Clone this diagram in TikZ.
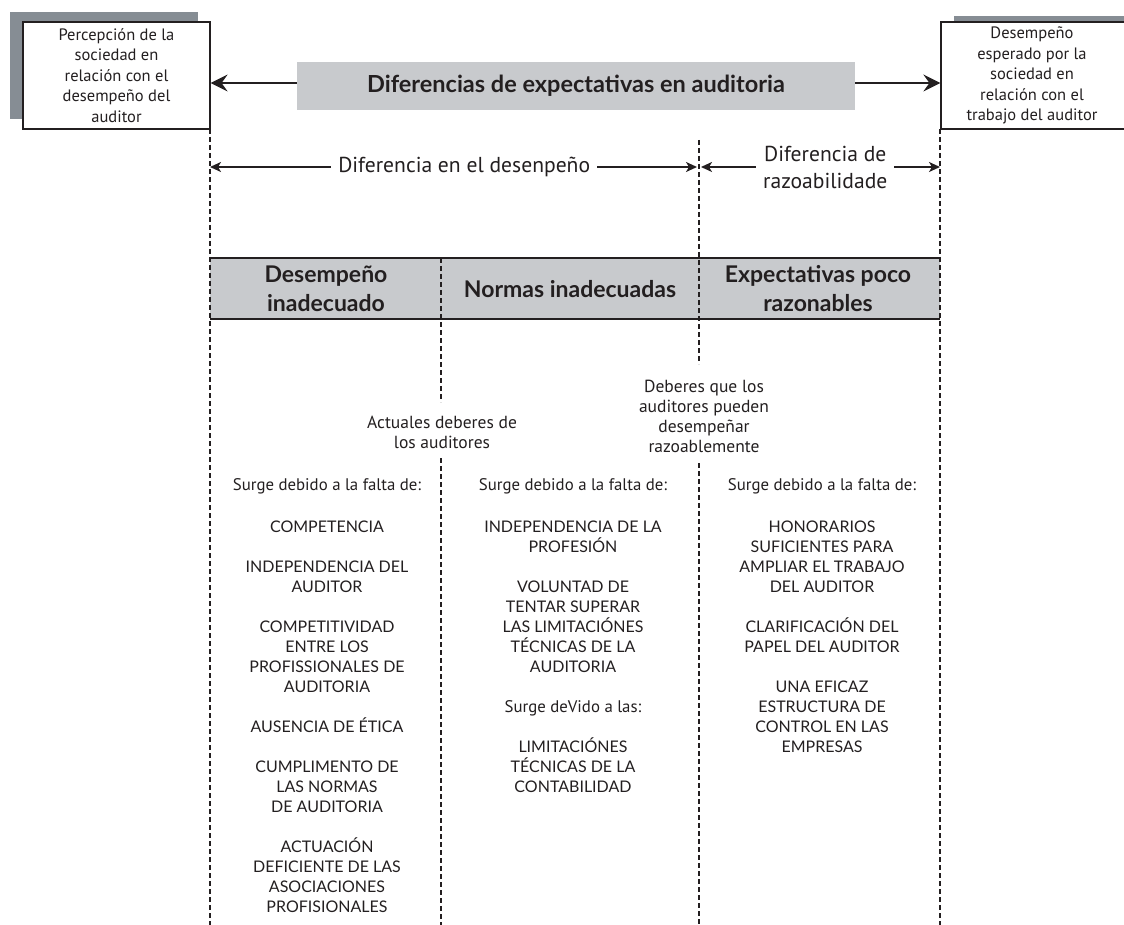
\documentclass[tikz,border=0pt]{standalone}
\usepackage{fontspec}
\setmainfont{PT Sans}
\newfontfamily\capsfont{Lato}
\newfontfamily\headfont{Lato}
\usetikzlibrary{arrows.meta}
\definecolor{ink}{HTML}{231F20}
\definecolor{bandgray}{HTML}{C8CACD}
\definecolor{shadowgray}{HTML}{868D94}
\begin{document}
\begin{tikzpicture}[x=1pt,y=-1pt,
  every node/.style={text=ink, inner sep=0pt},
  sidebox/.style={draw=ink, line width=1.2pt, fill=white, minimum height=107pt},
  boxtext/.style={align=center, font=\fontsize{16.5}{20.5}\selectfont},
  banner/.style={fill=bandgray, minimum width=558pt, minimum height=48pt, font=\headfont\bfseries\fontsize{23.5}{26}\selectfont},
  headtext/.style={align=center, font=\headfont\bfseries\fontsize{23}{29}\selectfont},
  dimtext/.style={align=center, fill=white, inner xsep=7pt, inner ysep=2pt, font=\fontsize{21.6}{27}\selectfont},
  coltext/.style={align=center, anchor=north, font=\fontsize{16.8}{20}\selectfont},
  dutytext/.style={align=center, font=\fontsize{17.5}{20}\selectfont},
  bigarrow/.style={draw=ink, line width=2pt, -{Stealth[length=17pt, width=17pt, inset=6pt]}},
  dimarrow/.style={draw=ink, line width=1.8pt, {Stealth[length=11pt, width=10pt, inset=3pt]}-{Stealth[length=11pt, width=10pt, inset=3pt]}},
  divider/.style={draw=ink, line width=2.6pt, dash pattern=on 5pt off 3pt},
  barline/.style={draw=ink, line width=1.4pt}]
\useasboundingbox (0,0) rectangle (1124,925);
\def\itm{\capsfont\fontsize{16}{20}\selectfont}
% side boxes with shadows
\fill[shadowgray] (10,12) rectangle (198,119);
\node[sidebox, minimum width=187pt] (perc) at (116.5,75.5) {};
\node[boxtext] (perctext) at (116.5,75.5) {Percepción de la\\sociedad en\\relación con el\\desempeño del\\auditor};
\fill[shadowgray] (954,16) rectangle (1140,120);
\node[sidebox, minimum width=195pt] (esper) at (1038.5,75.5) {};
\node[boxtext] (espertext) at (1032,75.5) {Desempeño\\esperado por la\\sociedad en\\relación con el\\trabajo del auditor};
% banner
\node[banner] (title) at (576,86) {Diferencias de expectativas en auditoria};
\draw[bigarrow] ([yshift=3pt]title.west) -- ([yshift=3pt]title.west -| perc.east);
\draw[bigarrow] ([yshift=3pt]title.east) -- ([yshift=3pt]title.east -| esper.west);
% header bar
\fill[bandgray] (210,258) rectangle (940,319);
\draw[barline] (210,258) -- (940,258) (210,319) -- (940,319);
\node[headtext] (h1) at (326,289) {Desempeño\\inadecuado};
\node[headtext] (h2) at (570,289) {Normas inadecuadas};
\node[headtext] (h3) at (818,289) {Expectativas poco\\razonables};
% vertical dividers
\coordinate (a1) at (210,129); \coordinate (a2) at (210,925);
\coordinate (d1) at (940,129); \coordinate (d2) at (940,925);
\coordinate (b1) at (441,258); \coordinate (b2) at (441,402);
\coordinate (b3) at (441,458); \coordinate (b4) at (441,925);
\coordinate (c1) at (699,140); \coordinate (c2) at (699,364);
\coordinate (c3) at (699,463); \coordinate (c4) at (699,925);
\draw[divider] (a1) -- (a2);
\draw[divider] (d1) -- (d2);
\draw[divider] (b1) -- (b2);
\draw[divider] (b3) -- (b4);
\draw[divider] (c1) -- (c2);
\draw[divider] (c3) -- (c4);
% dimension arrows
\coordinate (p1) at (210,167); \coordinate (p2) at (697,167);
\coordinate (q1) at (701,167); \coordinate (q2) at (940,167);
\draw[dimarrow] (p1) -- (p2) node[dimtext, pos=0.522] (dif1) {Diferencia en el desenpeño};
\draw[dimarrow] (q1) -- (q2) node[dimtext, pos=0.52] (dif2) {Diferencia de\\razoabilidade};
% duty labels
\node[dutytext] (act) at (442,432.5) {Actuales deberes de\\los auditores};
\node[dutytext] (razo) at (704,416.5) {Deberes que los\\auditores pueden\\desempeñar\\razoablemente};
% column texts
\node[coltext] (col1) at (327,478) {Surge debido a la falta de:\\[22pt]
{\itm COMPETENCIA}\\[20pt]
{\itm INDEPENDENCIA DEL}\\{\itm AUDITOR}\\[20pt]
{\itm COMPETITIVIDAD}\\{\itm ENTRE LOS}\\{\itm PROFISSIONALES DE}\\{\itm AUDITORIA}\\[20pt]
{\itm AUSENCIA DE ÉTICA}\\[20pt]
{\itm CUMPLIMENTO DE}\\{\itm LAS NORMAS}\\{\itm DE AUDITORIA}\\[20pt]
{\itm ACTUACIÓN}\\{\itm DEFICIENTE DE LAS}\\{\itm ASOCIACIONES}\\{\itm PROFISIONALES}};
\node[coltext] (col2) at (573,478) {Surge debido a la falta de:\\[22pt]
{\itm INDEPENDENCIA DE LA}\\{\itm PROFESIÓN}\\[20pt]
{\itm VOLUNTAD DE}\\{\itm TENTAR SUPERAR}\\{\itm LAS LIMITACIÓNES}\\{\itm TÉCNICAS DE LA}\\{\itm AUDITORIA}\\[20pt]
Surge deVido a las:\\[20pt]
{\itm LIMITACIÓNES}\\{\itm TÉCNICAS DE LA}\\{\itm CONTABILIDAD}};
\node[coltext] (col3) at (822,478) {Surge debido a la falta de:\\[22pt]
{\itm HONORARIOS}\\{\itm SUFICIENTES PARA}\\{\itm AMPLIAR EL TRABAJO}\\{\itm DEL AUDITOR}\\[20pt]
{\itm CLARIFICACIÓN DEL}\\{\itm PAPEL DEL AUDITOR}\\[20pt]
{\itm UNA EFICAZ}\\{\itm ESTRUCTURA DE}\\{\itm CONTROL EN LAS}\\{\itm EMPRESAS}};
\end{tikzpicture}
\end{document}
